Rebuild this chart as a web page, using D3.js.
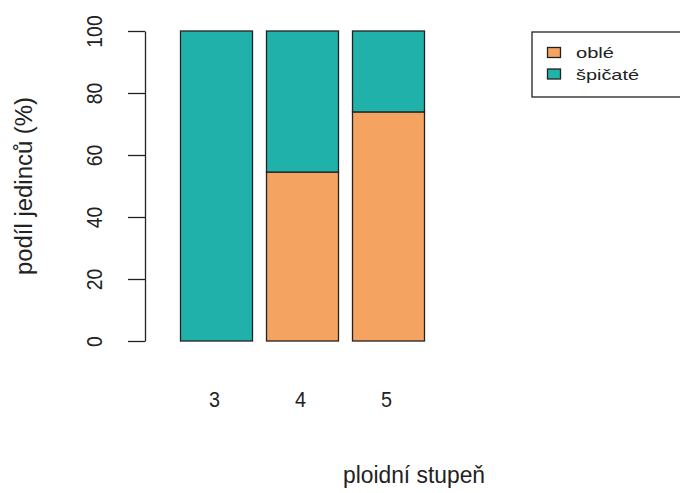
<!DOCTYPE html>
<html><head><meta charset="utf-8">
<script src="https://cdn.jsdelivr.net/npm/d3@7"></script>
<style>body{margin:0;background:#fff}svg{display:block;font-family:"Liberation Sans",Arial,sans-serif}</style>
</head><body>
<svg id="c" width="680" height="493"></svg>
<script>
const categories = ["3", "4", "5"];
const seriesNames = ["oblé", "špičaté"];
const oble = [0, 54.5, 73.9];
const spicate = [100, 45.5, 26.1];
const yTicks = [0, 20, 40, 60, 80, 100];
const colors = ["#F4A460", "#20B2AA"];

const svg = d3.select("#c");
const plotBottom = 341, plotTop = 31;
const y = d3.scaleLinear().domain([0, 100]).range([plotBottom, plotTop]);
const x = d3.scaleBand().domain(categories).range([180.5, 424.5]).paddingInner(14/86).paddingOuter(0);

const data = categories.map((c, i) => ({cat: c, oble: oble[i], spicate: spicate[i]}));
const stack = d3.stack().keys(["oble", "spicate"])(data);

svg.append("g").selectAll("g").data(stack).join("g")
  .attr("fill", (d, i) => colors[i])
  .selectAll("rect").data(d => d.filter(s => s[1] - s[0] > 0)).join("rect")
  .attr("x", d => x(d.data.cat))
  .attr("width", x.bandwidth())
  .attr("y", d => y(d[1]))
  .attr("height", d => y(d[0]) - y(d[1]))
  .attr("stroke", "#222").attr("stroke-width", 1.3);

// y axis
const ya = svg.append("g").attr("transform", "translate(145,0)")
  .call(d3.axisLeft(y).tickValues(yTicks).tickSize(17).tickSizeOuter(0));
ya.select(".domain").attr("stroke", "#222").attr("stroke-width", 1.3);
ya.selectAll(".tick line").attr("stroke", "#222").attr("stroke-width", 1.3);
ya.selectAll(".tick text")
  .attr("font-size", 22).attr("fill", "#222")
  .attr("x", 0).attr("y", 0).attr("dy", "0.35em")
  .attr("text-anchor", "middle")
  .attr("transform", "translate(-51,0) rotate(-90) scale(0.88,1)");

// x labels
svg.append("g").selectAll("text").data(categories).join("text")
  .attr("transform", d => `translate(${x(d) + x.bandwidth()/2 - 2},407) scale(0.9,1)`)
  .attr("text-anchor", "middle").attr("font-size", 22).attr("fill", "#222")
  .text(d => d);

svg.append("text").attr("x", 414).attr("y", 483).attr("text-anchor", "middle")
  .attr("font-size", 23).attr("fill", "#222")
  .attr("textLength", 142).attr("lengthAdjust", "spacingAndGlyphs")
  .text("ploidní stupeň");
svg.append("text").attr("transform", "rotate(-90)").attr("x", -186).attr("y", 32)
  .attr("text-anchor", "middle").attr("font-size", 23).attr("fill", "#222")
  .attr("textLength", 178).attr("lengthAdjust", "spacingAndGlyphs")
  .text("podíl jedinců (%)");

// legend
const legendLen = [38, 63];
const lg = svg.append("g");
lg.append("rect").attr("x", 532).attr("y", 32).attr("width", 160).attr("height", 65)
  .attr("fill", "none").attr("stroke", "#222").attr("stroke-width", 1.3);
seriesNames.forEach((n, i) => {
  lg.append("rect").attr("x", 547.5).attr("y", 47.5 + i*21.5).attr("width", 13).attr("height", 10)
    .attr("fill", colors[i]).attr("stroke", "#222").attr("stroke-width", 1.3);
  lg.append("text").attr("x", 576).attr("y", 58 + i*21.5).attr("font-size", 15).attr("fill", "#222")
    .attr("textLength", legendLen[i]).attr("lengthAdjust", "spacingAndGlyphs").text(n);
});
</script>
</body></html>
